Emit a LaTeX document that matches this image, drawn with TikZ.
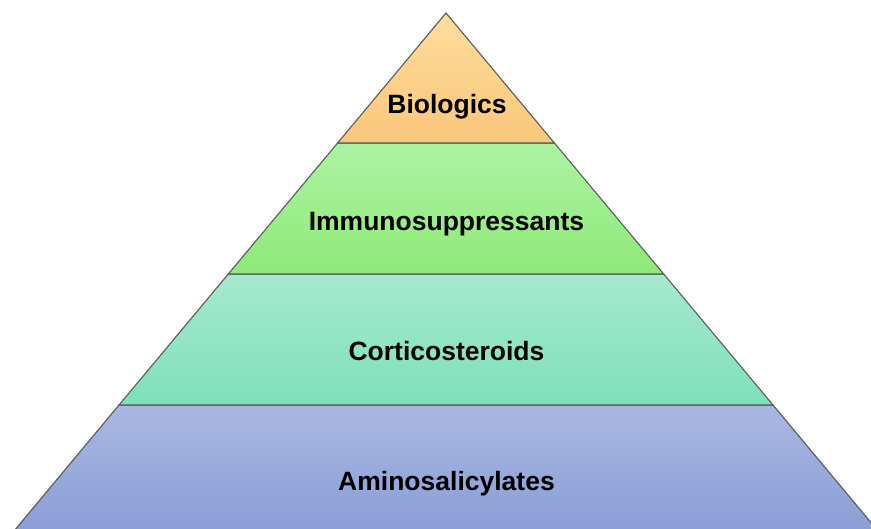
\documentclass[tikz,border=0pt]{standalone}
\usepackage{fontspec}
\setmainfont{Liberation Sans}
\definecolor{bioT}{HTML}{FFDD9E}
\definecolor{bioB}{HTML}{FAC679}
\definecolor{immT}{HTML}{ABF3A2}
\definecolor{immB}{HTML}{8FEA78}
\definecolor{corT}{HTML}{A6E9CF}
\definecolor{corB}{HTML}{7EE0BA}
\definecolor{amiT}{HTML}{AAB7E1}
\definecolor{amiB}{HTML}{8098D5}
\definecolor{edge}{HTML}{5A5A5A}
\begin{document}
\begin{tikzpicture}[x=1pt,y=-1pt,
  layer/.style={draw=edge,line width=1.1pt,line join=miter},
  lbl/.style={anchor=base,inner sep=0pt,font=\fontsize{26.5}{31}\selectfont\bfseries,text=black}]
\useasboundingbox (0,0) rectangle (871,528);
\clip (0,0) rectangle (871,528);
\path[layer,top color=amiT,bottom color=amiB] (119,405) -- (773,405) -- (905.5,564) -- (-13.5,564) -- cycle;
\path[layer,top color=corT,bottom color=corB] (228.3,274) -- (663.7,274) -- (773,405) -- (119,405) -- cycle;
\path[layer,top color=immT,bottom color=immB] (337.6,143) -- (554.4,143) -- (663.7,274) -- (228.3,274) -- cycle;
\path[layer,top color=bioT,bottom color=bioB] (446,13) -- (554.4,143) -- (337.6,143) -- cycle;
\node[lbl] (bio) at (447,113) {Biologics};
\node[lbl] (imm) at (446.5,230.7) {Immunosuppressants};
\node[lbl] (cor) at (446.5,360.7) {Corticosteroids};
\node[lbl] (ami) at (446.5,490.7) {Aminosalicylates};
\end{tikzpicture}
\end{document}
